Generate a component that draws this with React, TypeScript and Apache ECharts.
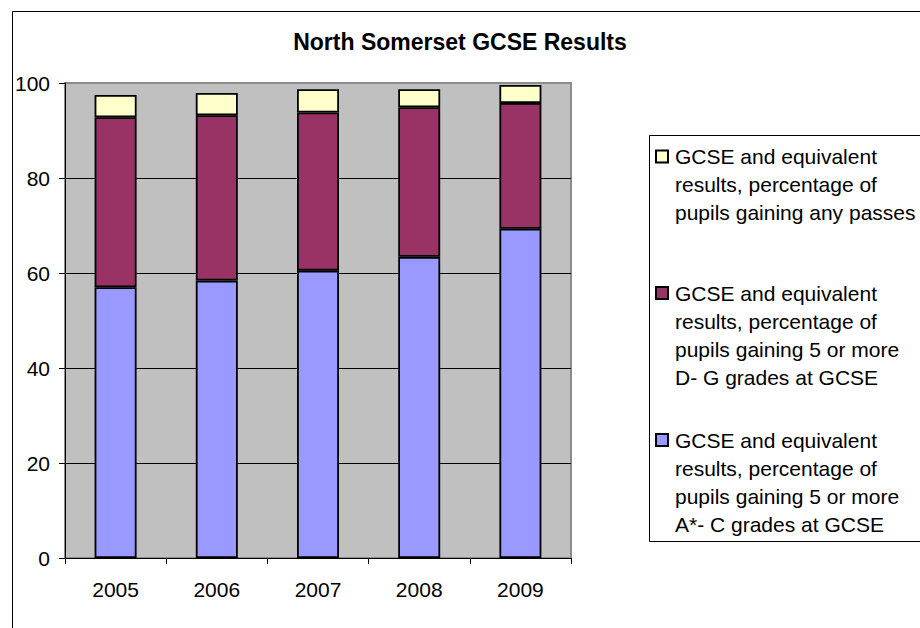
import React, { useEffect, useRef } from "react";
import * as echarts from "echarts";

const years = ["2005", "2006", "2007", "2008", "2009"];
const acGrades = [57.0, 58.4, 60.5, 63.4, 69.3];
const dgGrades = [35.8, 34.8, 33.3, 31.5, 26.5];
const anyPasses = [4.7, 4.7, 4.9, 3.8, 3.8];

const nameAny = "GCSE and equivalent results, percentage of pupils gaining any passes";
const nameDG = "GCSE and equivalent results, percentage of pupils gaining 5 or more D- G grades at GCSE";
const nameAC = "GCSE and equivalent results, percentage of pupils gaining 5 or more A*- C grades at GCSE";

const linesAny = ["GCSE and equivalent", "results, percentage of", "pupils gaining any passes"];
const linesDG = ["GCSE and equivalent", "results, percentage of", "pupils gaining 5 or more", "D- G grades at GCSE"];
const linesAC = ["GCSE and equivalent", "results, percentage of", "pupils gaining 5 or more", "A*- C grades at GCSE"];

const FONT = "'Liberation Sans', Arial, sans-serif";

function wrapped(lines: string[]) {
  // blank lines above so that the first text line sits level with the marker
  const pad = new Array(lines.length - 1).fill("").join("\n");
  return pad + "\n" + lines.join("\n");
}

function legendFor(name: string, lines: string[], markerCenterY: number) {
  const LH = 28;
  const IH = 12;
  const blockHalf = ((2 * lines.length - 1) * LH) / 2;
  const top = markerCenterY - blockHalf;
  return {
    data: [name],
    orient: "vertical",
    left: 655,
    top: top,
    padding: 0,
    itemWidth: 12,
    itemHeight: IH,
    icon: "rect",
    selectedMode: false,
    formatter: () => wrapped(lines),
    textStyle: {
      fontFamily: FONT,
      fontSize: 21,
      lineHeight: LH,
      color: "#000",
      padding: [0, 0, 0, 2],
    },
  };
}

export default function App() {
  const ref = useRef<HTMLDivElement>(null);
  useEffect(() => {
    document.body.style.margin = "0";
    const chart = echarts.init(ref.current!, null, { renderer: "svg" });
    const barStyle = (color: string) => ({
      color,
      borderColor: "#000",
      borderWidth: 1.8,
    });
    chart.setOption({
      animation: false,
      backgroundColor: "#fff",
      textStyle: { fontFamily: FONT },
      title: {
        text: "North Somerset GCSE Results",
        left: "center",
        top: 30,
        padding: 0,
        textStyle: { fontFamily: FONT, fontSize: 23, fontWeight: "bold", color: "#000" },
      },
      graphic: [
        {
          type: "rect",
          silent: true,
          shape: { x: 12.5, y: 11.5, width: 2000, height: 2000 },
          style: { fill: "none", stroke: "#000", lineWidth: 1 },
        },
        {
          type: "rect",
          silent: true,
          shape: { x: 649.5, y: 135.5, width: 400, height: 406 },
          style: { fill: "none", stroke: "#000", lineWidth: 1 },
        },
      ],
      legend: [
        legendFor(nameAny, linesAny, 156.5),
        legendFor(nameDG, linesDG, 293),
        legendFor(nameAC, linesAC, 440),
      ],
      grid: {
        left: 65,
        top: 83,
        width: 506,
        height: 475,
        show: true,
        backgroundColor: "#C0C0C0",
        borderColor: "#8c8c8c",
        borderWidth: 2,
      },
      xAxis: {
        type: "category",
        data: years,
        boundaryGap: true,
        axisLine: { show: true, lineStyle: { color: "#000", width: 1 } },
        axisTick: { show: true, alignWithLabel: false, length: 6, lineStyle: { color: "#000" } },
        axisLabel: { fontFamily: FONT, fontSize: 21, color: "#000", margin: 21 },
        splitLine: { show: false },
      },
      yAxis: {
        type: "value",
        min: 0,
        max: 100,
        interval: 20,
        axisLine: { show: true, lineStyle: { color: "#000", width: 1 } },
        axisTick: { show: true, length: 6, lineStyle: { color: "#000" } },
        axisLabel: { fontFamily: FONT, fontSize: 21, color: "#000", margin: 15 },
        splitLine: {
          show: true,
          lineStyle: { color: ["#000", "#000", "#000", "#000", "#000", "#8c8c8c"], width: 1 },
        },
      },
      series: [
        { name: nameAC, type: "bar", stack: "total", data: acGrades, barWidth: "41.5%", itemStyle: barStyle("#9999FF") },
        { name: nameDG, type: "bar", stack: "total", data: dgGrades, barWidth: "41.5%", itemStyle: barStyle("#993366") },
        { name: nameAny, type: "bar", stack: "total", data: anyPasses, barWidth: "41.5%", itemStyle: barStyle("#FFFFCC") },
      ],
    });
    return () => chart.dispose();
  }, []);
  return <div ref={ref} style={{ width: 920, height: 628 }} />;
}
